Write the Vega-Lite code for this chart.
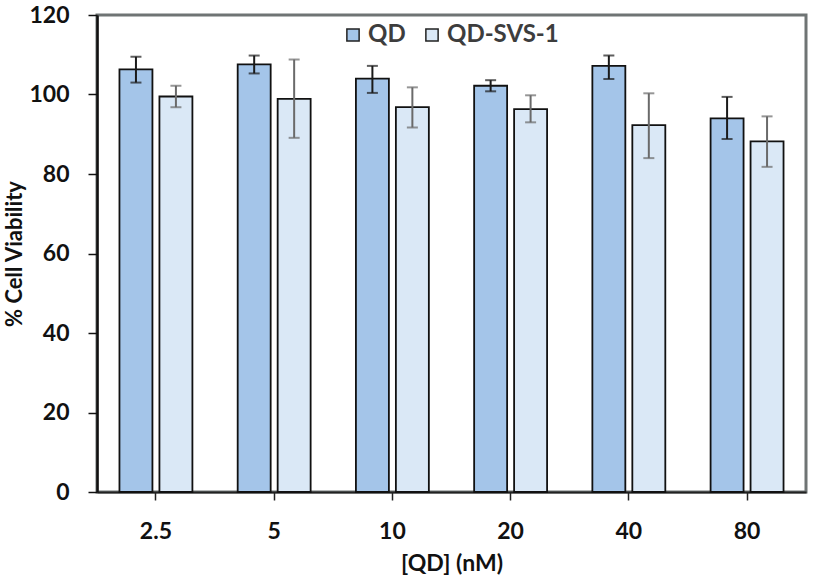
{
  "$schema": "https://vega.github.io/schema/vega-lite/v6.json",
  "width": 709,
  "height": 477,
  "autosize": {"type": "none"},
  "padding": {"left": 97, "top": 15, "right": 7, "bottom": 89},
  "background": "white",
  "config": {
    "font": "Lato",
    "view": {"stroke": "#6f7474", "strokeWidth": 3},
    "axis": {"grid": false, "labelFont": "Lato", "titleFont": "Lato", "labelFontWeight": "bold", "titleFontWeight": "bold", "labelColor": "#111", "titleColor": "#111", "labelFontSize": 23, "titleFontSize": 23}
  },
  "data": {
    "values": [
      {"conc": "2.5", "series": "QD", "mean": 106.3, "lo": 103.0, "hi": 109.5},
      {"conc": "2.5", "series": "QD-SVS-1", "mean": 99.5, "lo": 96.8, "hi": 102.2},
      {"conc": "5", "series": "QD", "mean": 107.6, "lo": 105.3, "hi": 109.8},
      {"conc": "5", "series": "QD-SVS-1", "mean": 98.9, "lo": 89.1, "hi": 108.8},
      {"conc": "10", "series": "QD", "mean": 104.0, "lo": 100.4, "hi": 107.2},
      {"conc": "10", "series": "QD-SVS-1", "mean": 96.8, "lo": 91.7, "hi": 101.8},
      {"conc": "20", "series": "QD", "mean": 102.2, "lo": 100.8, "hi": 103.6},
      {"conc": "20", "series": "QD-SVS-1", "mean": 96.3, "lo": 93.0, "hi": 99.8},
      {"conc": "40", "series": "QD", "mean": 107.2, "lo": 103.9, "hi": 109.8},
      {"conc": "40", "series": "QD-SVS-1", "mean": 92.3, "lo": 84.0, "hi": 100.3},
      {"conc": "80", "series": "QD", "mean": 94.0, "lo": 88.8, "hi": 99.4},
      {"conc": "80", "series": "QD-SVS-1", "mean": 88.2, "lo": 81.8, "hi": 94.5}
    ]
  },
  "encoding": {
    "x": {
      "field": "conc", "type": "nominal", "sort": ["2.5", "5", "10", "20", "40", "80"],
      "scale": {"paddingInner": 0.383, "paddingOuter": 0.19},
      "axis": {"title": "[QD] (nM)", "labelAngle": 0, "domainColor": "#222", "domainWidth": 2, "tickColor": "#222", "tickWidth": 1.5, "tickSize": 8, "labelPadding": 20, "titlePadding": 9}
    },
    "xOffset": {"field": "series", "type": "nominal", "sort": ["QD", "QD-SVS-1"], "scale": {"paddingInner": 0.175, "paddingOuter": 0}}
  },
  "layer": [
    {
      "mark": {"type": "bar", "stroke": "#111", "strokeWidth": 1.8},
      "encoding": {
        "y": {"field": "mean", "type": "quantitative", "scale": {"domain": [0, 120], "nice": false},
          "axis": {"title": "% Cell Viability", "titleFontSize": 22, "values": [0, 20, 40, 60, 80, 100, 120], "domainColor": "#111", "domainWidth": 2.5, "tickColor": "#111", "tickWidth": 1.5, "tickSize": 9, "labelPadding": 19, "titlePadding": 2}},
        "fill": {"field": "series", "type": "nominal", "sort": ["QD", "QD-SVS-1"],
          "scale": {"range": ["#a4c5e9", "#dae8f6"]},
          "legend": {"orient": "none", "legendX": 244, "legendY": 8, "direction": "horizontal", "title": null, "symbolType": "square", "symbolSize": 150, "symbolStrokeColor": "#222", "symbolStrokeWidth": 1.5, "symbolOpacity": 1, "labelFont": "Lato", "labelFontSize": 24, "labelFontWeight": "bold", "labelColor": "#3d3d3d", "columnPadding": 14, "labelOffset": 3}}
      }
    },
    {
      "mark": {"type": "rule", "strokeWidth": 2},
      "encoding": {
        "y": {"field": "lo", "type": "quantitative"},
        "y2": {"field": "hi"},
        "color": {"condition": {"test": "datum.series === 'QD'", "value": "#1a1a1a"}, "value": "#6a6a6a"}
      }
    },
    {
      "mark": {"type": "tick", "size": 11, "thickness": 2},
      "encoding": {
        "y": {"field": "lo", "type": "quantitative"},
        "color": {"condition": {"test": "datum.series === 'QD'", "value": "#1a1a1a"}, "value": "#6a6a6a"}
      }
    },
    {
      "mark": {"type": "tick", "size": 11, "thickness": 2},
      "encoding": {
        "y": {"field": "hi", "type": "quantitative"},
        "color": {"condition": {"test": "datum.series === 'QD'", "value": "#1a1a1a"}, "value": "#6a6a6a"}
      }
    }
  ]
}
